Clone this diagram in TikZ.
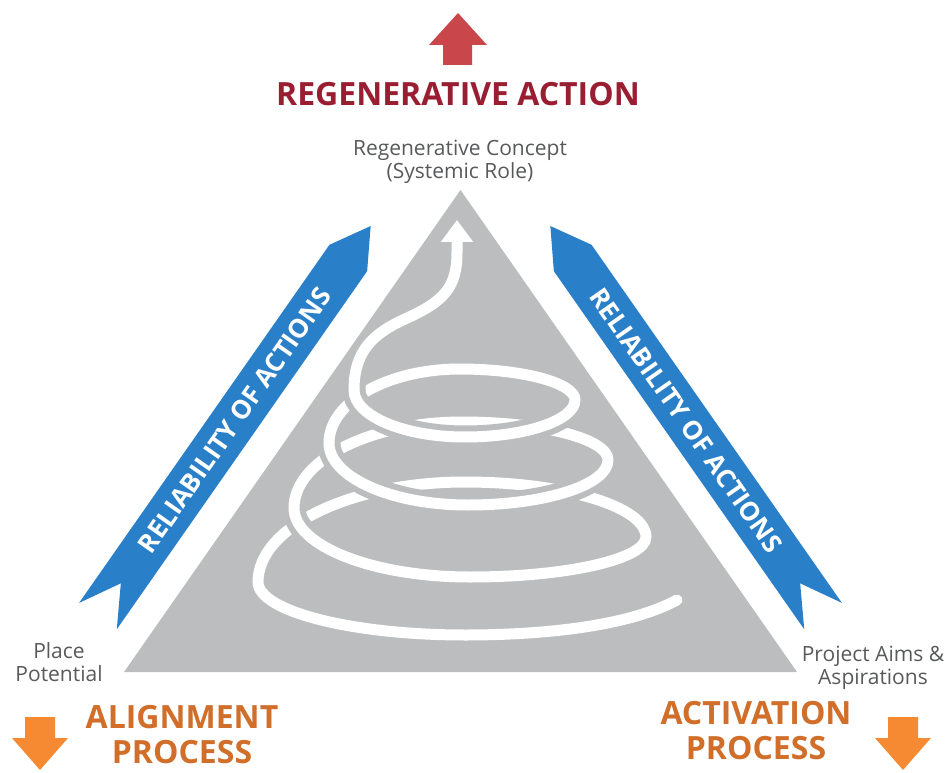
\documentclass[tikz,border=0pt]{standalone}
\usepackage{fontspec}
\setmainfont{Open Sans}
\usetikzlibrary{arrows.meta,positioning}
\definecolor{rgInk}{HTML}{58595B}
\definecolor{rgGray}{HTML}{BBBDBF}
\definecolor{rgBlue}{HTML}{2A7FC9}
\definecolor{rgRed}{HTML}{C9474A}
\definecolor{rgWine}{HTML}{9A1E32}
\definecolor{rgOrange}{HTML}{F58A33}
\definecolor{rgRust}{HTML}{D06E2A}
\tikzset{
  lbl/.style      ={font=\fontsize{21}{23}\selectfont,text=rgInk,align=center,inner sep=0pt},
  head/.style     ={font=\fontsize{32}{35}\selectfont\bfseries,align=center,inner sep=0pt},
  bantext/.style  ={font=\fontsize{26}{28}\selectfont\bfseries,text=white,inner sep=0pt},
  banner/.style   ={fill=rgBlue},
  blockup/.style  ={fill=rgRed},
  blockdown/.style={fill=rgOrange},
  coil/.style     ={draw=white,line width=11pt,line cap=round},
  front/.style    ={coil,preaction={draw=rgGray,line width=23pt,line cap=butt}},
}

\begin{document}
\begin{tikzpicture}[x=1pt,y=1pt]
\useasboundingbox (0,0) rectangle (952,772);
\coordinate (apex)  at (460.5,582);
\coordinate (leftc) at (124,100);
\coordinate (rightc) at (797,100);
\fill[rgGray] (apex) -- (leftc) -- (rightc) -- cycle;

%% banners along the two sides
\begin{scope}[shift={(apex)},rotate=-55.04]
  \fill[banner] (120,30) -- (81,53) -- (120,76) -- (557,76) -- (517,53) -- (557,30) -- cycle;
  \node[bantext,rotate=-55.04] (relright) at (318,53) {RELIABILITY OF ACTIONS};
\end{scope}
\begin{scope}[shift={(apex)},rotate=-124.96,yscale=-1]
  \fill[banner] (120,30) -- (81,53) -- (120,76) -- (557,76) -- (517,53) -- (557,30) -- cycle;
  \node[bantext,rotate=55.04] (relleft) at (318,53) {RELIABILITY OF ACTIONS};
\end{scope}

%% spiral: back halves first, then front halves over them
\draw[coil] (575,372) .. controls (575,389) and (523,403) .. (460,403)
            .. controls (388,403) and (329,370) .. (329,329);
\draw[coil] (608,312) .. controls (608,333) and (543,350) .. (462,350)
            .. controls (369,350) and (294,311) .. (294,264);
\draw[coil] (646,235) .. controls (646,265) and (565,290) .. (465,290)
            .. controls (351,290) and (258,245) .. (258,190);
\draw[front] (354,382) .. controls (354,356) and (404,335) .. (465,335)
             .. controls (526,335) and (575,352) .. (575,372);
\draw[front] (329,329) .. controls (329,295) and (391,267) .. (468,267)
             .. controls (545,267) and (608,287) .. (608,312);
\draw[front] (294,264) .. controls (294,226) and (373,195) .. (470,195)
             .. controls (567,195) and (646,213) .. (646,235);
\draw[front] (258,190) .. controls (258,161) and (351,137) .. (465,137)
             .. controls (540,137) and (627,145) .. (677,172);
\draw[front,-{Triangle[width=31pt,length=22pt]}] (354,382)
             .. controls (354,420) and (372,438) .. (405,453)
             .. controls (445,471) and (457,485) .. (457,520) -- (457,552);

%% block arrows
\fill[blockup] (443,707) -- (443,727) -- (429,727) -- (458,759) -- (487,727)
               -- (472,727) -- (472,707) -- cycle;
\fill[blockdown] (25,55) -- (25,34) -- (12,34) -- (40,2) -- (68,34)
                 -- (55,34) -- (55,55) -- cycle;
\fill[blockdown] (888,55) -- (888,34) -- (875,34) -- (903,2) -- (931,34)
                 -- (918,34) -- (918,55) -- cycle;

%% texts
\node[head,text=rgWine,anchor=base] (regen) at (458,666) {REGENERATIVE ACTION};
\node[lbl,anchor=north] (concept) at (460,632) {Regenerative Concept\\(Systemic Role)};
\node[lbl,anchor=north] (place) at (59,130) {Place\\Potential};
\node[lbl,anchor=north] (aims) at (873,126) {Project Aims \&\\Aspirations};
\node[head,text=rgRust,anchor=north] (align) at (182,67) {ALIGNMENT\\PROCESS};
\node[head,text=rgRust,anchor=north] (activ) at (756,71) {ACTIVATION\\PROCESS};
\end{tikzpicture}
\end{document}
